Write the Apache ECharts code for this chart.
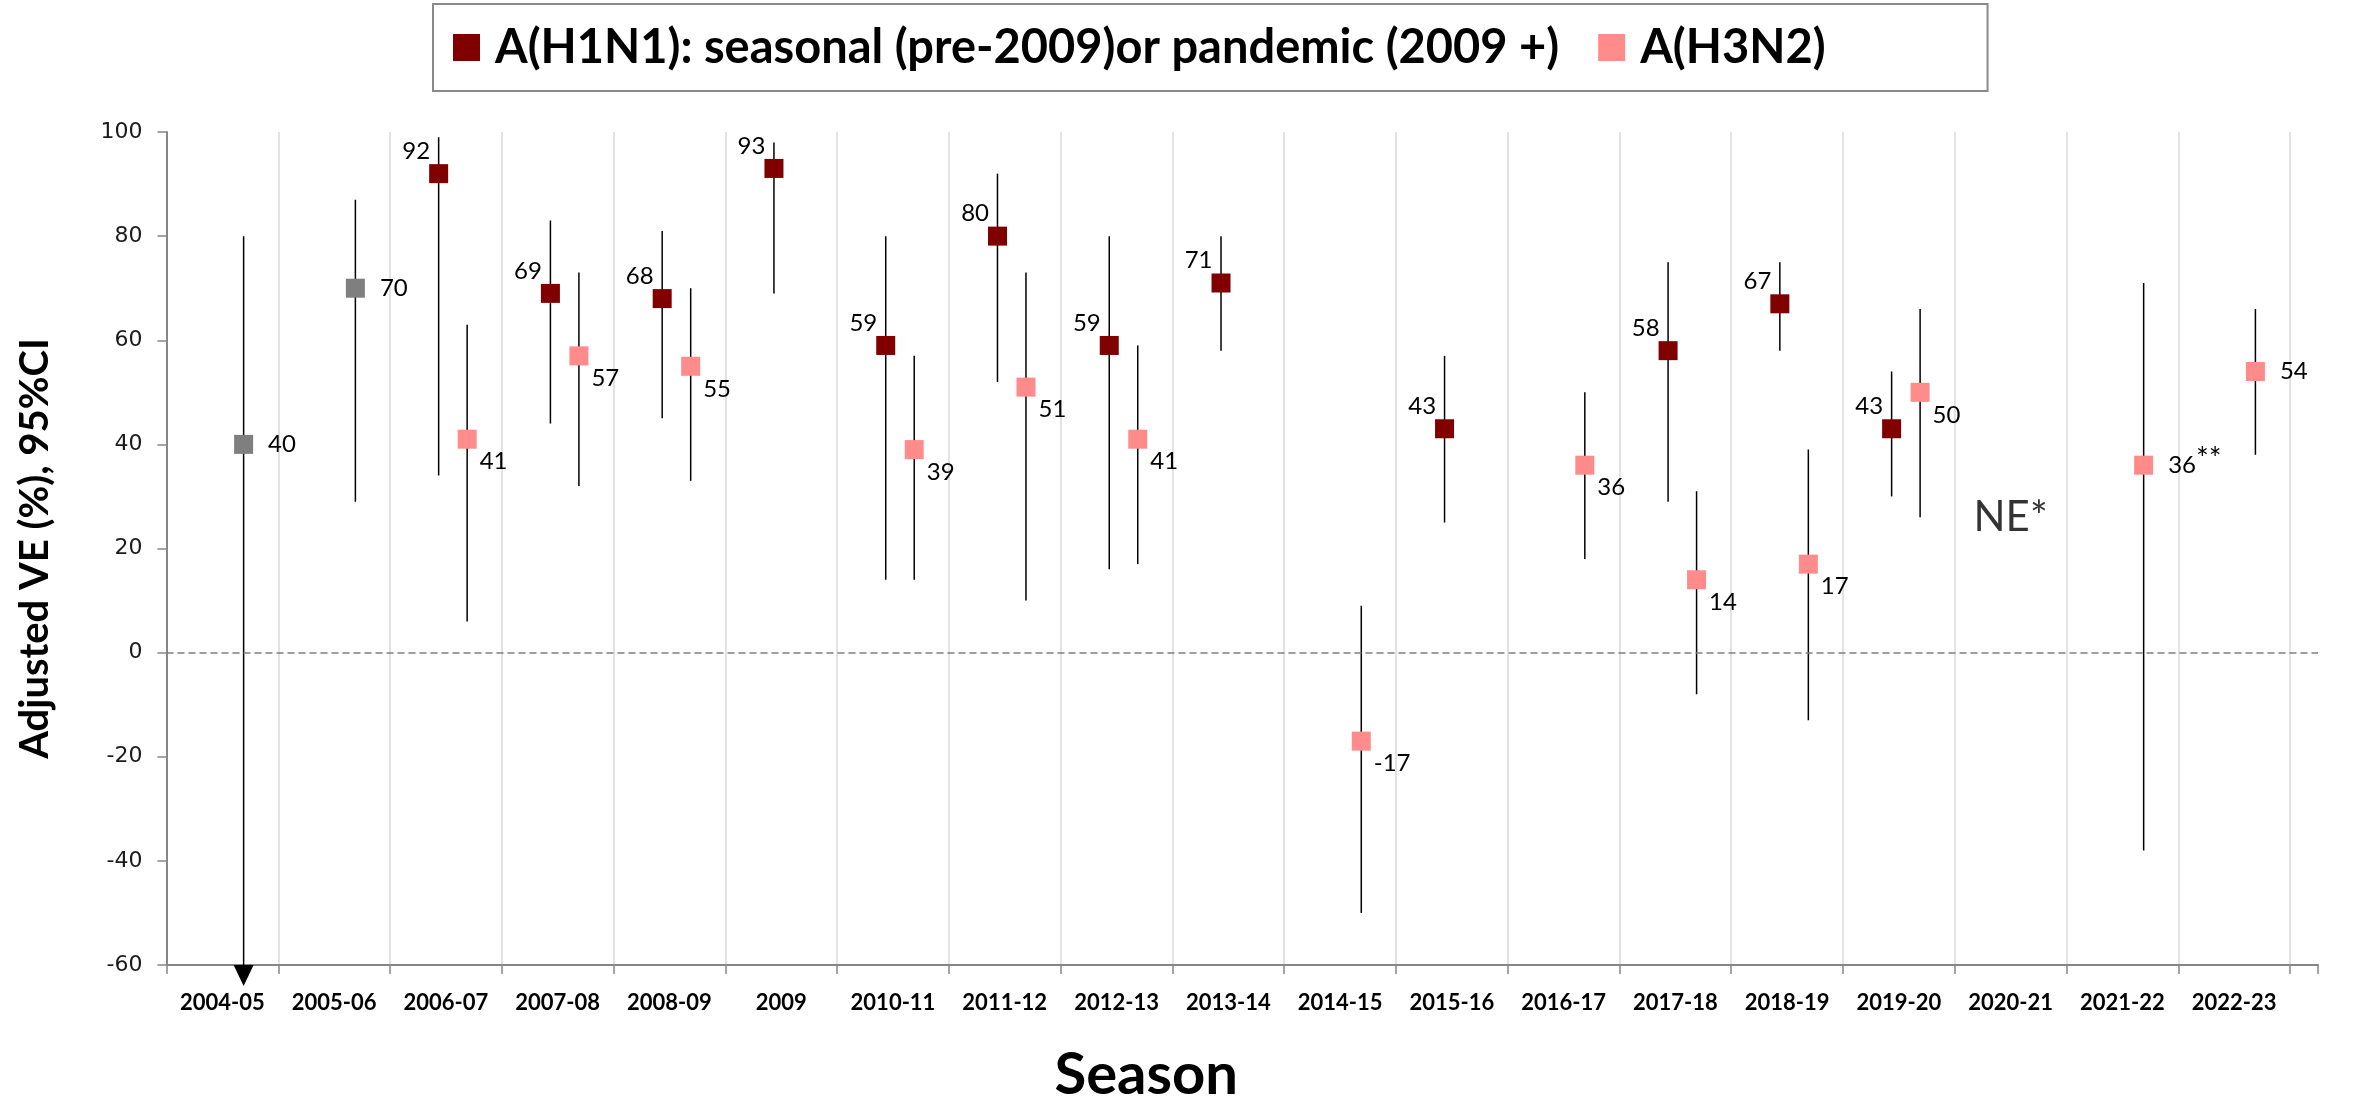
<!DOCTYPE html>
<html>
<head>
<meta charset="utf-8">
<title>Adjusted VE by season</title>
<script src="https://cdn.jsdelivr.net/npm/echarts@6/dist/echarts.min.js"></script>
<style>
  html, body { margin: 0; padding: 0; background: #fff; }
  #chart { width: 2354px; height: 1096px; }
</style>
</head>
<body>
<div id="chart"></div>
<script>
const seasons = ['2004-05', '2005-06', '2006-07', '2007-08', '2008-09', '2009', '2010-11', '2011-12',
  '2012-13', '2013-14', '2014-15', '2015-16', '2016-17', '2017-18', '2018-19', '2019-20',
  '2020-21', '2021-22', '2022-23']

// A(H1N1): seasonal (pre-2009) or pandemic (2009 +)
const h1n1Seasons = ['2006-07', '2007-08', '2008-09', '2009', '2010-11', '2011-12', '2012-13', '2013-14',
  '2015-16', '2017-18', '2018-19', '2019-20']
const h1n1VE = [92, 69, 68, 93, 59, 80, 59, 71, 43, 58, 67, 43]
const h1n1Low = [34, 44, 45, 69, 14, 52, 16, 58, 25, 29, 58, 30]
const h1n1High = [99, 83, 81, 98, 80, 92, 80, 80, 57, 75, 75, 54]

// A(H3N2)
const h3n2Seasons = ['2006-07', '2007-08', '2008-09', '2010-11', '2011-12', '2012-13', '2014-15', '2016-17',
  '2017-18', '2018-19', '2019-20', '2021-22', '2022-23']
const h3n2VE = [41, 57, 55, 39, 51, 41, -17, 36, 14, 17, 50, 36, 54]
const h3n2Low = [6, 32, 33, 14, 10, 17, -50, 18, -8, -13, 26, -38, 38]
const h3n2High = [63, 73, 70, 57, 73, 59, 9, 50, 31, 39, 66, 71, 66]
const h3n2Notes = { '2021-22': '**' }

// grey estimates (no subtype in legend)
const greySeasons = ['2004-05', '2005-06']
const greyVE = [40, 70]
const greyLow = [null, 29] // null = lower limit below the axis
const greyHigh = [80, 87]

// seasons without an estimate
const notEstimated = ['2020-21']

const legendNames = ['A(H1N1): seasonal (pre-2009)or pandemic (2009 +)', 'A(H3N2)']

// ---- styling ----
const Y_MIN = -60
const Y_MAX = 100
const X_MAX = 19.25
const NE_LEVEL = 26
const labelFont = 'Lato, "Open Sans", sans-serif'

// horizontal dodge within a season (fraction of a season width)
const dodge = { h1n1: -0.065, h3n2: 0.19, grey: 0.19 }

const labelSpots = {
  tl: { position: [1, -13], align: 'right', verticalAlign: 'middle' },
  br: { position: [22, 32], align: 'left', verticalAlign: 'middle' },
  r: { position: [34, 9.5], align: 'left', verticalAlign: 'middle' }
}
const labelOverride = { h3n2: { '2021-22': 'r', '2022-23': 'r' } }

const xOf = (season, key) => seasons.indexOf(season) + 0.5 + dodge[key]

const pointData = (key, names, values, notes, side) =>
  names.map((s, i) => {
    const spot = labelSpots[(labelOverride[key] && labelOverride[key][s]) || side]
    return {
      value: [xOf(s, key), values[i]],
      note: (notes && notes[s]) || '',
      label: { position: spot.position, align: spot.align, verticalAlign: spot.verticalAlign }
    }
  })

const barData = (key, names, lows, highs) =>
  names.map((s, i) => [xOf(s, key), lows[i] === null ? Y_MIN : lows[i], highs[i], lows[i] === null ? 1 : 0])

const renderWhisker = (params, api) => {
  const x = api.value(0)
  const top = api.coord([x, api.value(2)])
  const bottom = api.coord([x, api.value(1)])
  const children = [
    {
      type: 'line',
      shape: { x1: top[0], y1: top[1], x2: bottom[0], y2: bottom[1] },
      style: { stroke: '#000', lineWidth: 1.5 }
    }
  ]
  if (api.value(3) === 1) {
    // lower limit off the scale
    children.push({
      type: 'polygon',
      shape: { points: [[bottom[0] - 10, bottom[1]], [bottom[0] + 10, bottom[1]], [bottom[0], bottom[1] + 21]] },
      style: { fill: '#000' }
    })
  }
  return { type: 'group', children }
}

const labelStyle = {
  show: true,
  fontFamily: labelFont,
  fontSize: 24,
  color: '#000',
  formatter: (p) => (p.data.note ? `{v|${p.data.value[1]}}{s|${p.data.note}}` : `${p.data.value[1]}`),
  rich: {
    v: { fontFamily: labelFont, fontSize: 24, color: '#000' },
    s: { fontFamily: labelFont, fontSize: 30, color: '#000', padding: [0, 0, 12, 0] }
  }
}

const chart = echarts.init(document.getElementById('chart'))
chart.setOption({
  animation: false,
  backgroundColor: '#fff',
  grid: { left: 166.5, right: 36, top: 132, bottom: 131, outerBoundsMode: 'none' },
  legend: {
    data: legendNames,
    left: 433,
    top: 4,
    padding: [20, 162, 20, 20],
    itemWidth: 27,
    itemHeight: 27,
    itemGap: 39,
    icon: 'rect',
    borderColor: '#8a8a8a',
    borderWidth: 2,
    textStyle: {
      fontFamily: labelFont,
      fontWeight: 'bold',
      fontSize: 47,
      color: '#000',
      padding: [0, 0, 0, 10]
    }
  },
  xAxis: [
    {
      type: 'value',
      min: 0,
      max: X_MAX,
      interval: 1,
      axisLine: { onZero: false, lineStyle: { color: '#868686', width: 2 } },
      axisTick: { show: true, length: 9, lineStyle: { color: '#868686', width: 1.5 } },
      axisLabel: { show: false },
      splitLine: { show: true, showMaxLine: false, lineStyle: { color: '#d9d9d9', width: 1.5 } }
    },
    {
      type: 'value',
      position: 'bottom',
      min: 0,
      max: X_MAX,
      interval: 0.5,
      axisLine: { show: false, onZero: false },
      axisTick: { show: false },
      splitLine: { show: false },
      axisLabel: {
        margin: 27,
        fontFamily: labelFont,
        fontWeight: 'bold',
        fontSize: 22,
        color: '#000',
        formatter: (v) => {
          const k = v - 0.5
          return Number.isInteger(k) && seasons[k] ? seasons[k] : ''
        }
      },
      name: 'Season',
      nameLocation: 'middle',
      nameGap: 81,
      nameTextStyle: {
        fontFamily: labelFont,
        fontWeight: 'bold',
        fontSize: 58,
        color: '#000',
        padding: [0, 192, 0, 0]
      }
    }
  ],
  yAxis: {
    type: 'value',
    min: Y_MIN,
    max: Y_MAX,
    interval: 20,
    axisLine: { show: true, lineStyle: { color: '#868686', width: 2 } },
    axisTick: { show: true, length: 9, lineStyle: { color: '#868686', width: 1.5 } },
    axisLabel: { margin: 24, fontFamily: '"DejaVu Sans", Verdana, sans-serif', fontSize: 22, color: '#1a1a1a' },
    splitLine: { show: false },
    name: 'Adjusted VE (%), 95%CI',
    nameLocation: 'middle',
    nameRotate: 90,
    nameGap: 111,
    nameTextStyle: { fontFamily: labelFont, fontWeight: 'bold', fontSize: 40, color: '#000' }
  },
  series: [
    {
      type: 'custom',
      name: 'grey-ci',
      clip: false,
      z: 2,
      renderItem: renderWhisker,
      data: barData('grey', greySeasons, greyLow, greyHigh)
    },
    {
      type: 'custom',
      name: 'h1n1-ci',
      z: 2,
      renderItem: renderWhisker,
      data: barData('h1n1', h1n1Seasons, h1n1Low, h1n1High)
    },
    {
      type: 'custom',
      name: 'h3n2-ci',
      z: 2,
      renderItem: renderWhisker,
      data: barData('h3n2', h3n2Seasons, h3n2Low, h3n2High)
    },
    {
      type: 'scatter',
      name: 'grey',
      symbol: 'rect',
      symbolSize: 19,
      z: 3,
      itemStyle: { color: '#7f7f7f', opacity: 1 },
      label: labelStyle,
      data: pointData('grey', greySeasons, greyVE, null, 'r')
    },
    {
      type: 'scatter',
      name: legendNames[0],
      symbol: 'rect',
      symbolSize: 19,
      z: 3,
      itemStyle: { color: '#800000', opacity: 1 },
      label: labelStyle,
      data: pointData('h1n1', h1n1Seasons, h1n1VE, null, 'tl'),
      markLine: {
        silent: true,
        symbol: 'none',
        label: { show: false },
        lineStyle: { color: '#7f7f7f', type: [7, 4], width: 1.5 },
        data: [{ yAxis: 0 }]
      }
    },
    {
      type: 'scatter',
      name: legendNames[1],
      symbol: 'rect',
      symbolSize: 19,
      z: 3,
      itemStyle: { color: '#ff8b8b', opacity: 1 },
      label: labelStyle,
      data: pointData('h3n2', h3n2Seasons, h3n2VE, h3n2Notes, 'br')
    },
    {
      type: 'scatter',
      name: 'not-estimated',
      symbolSize: 1,
      itemStyle: { color: 'rgba(0,0,0,0)' },
      label: {
        show: true,
        position: 'inside',
        formatter: 'NE*',
        fontFamily: labelFont,
        fontSize: 42,
        color: '#000'
      },
      data: notEstimated.map((s) => [seasons.indexOf(s) + 0.5, NE_LEVEL])
    }
  ]
})
</script>
</body>
</html>
